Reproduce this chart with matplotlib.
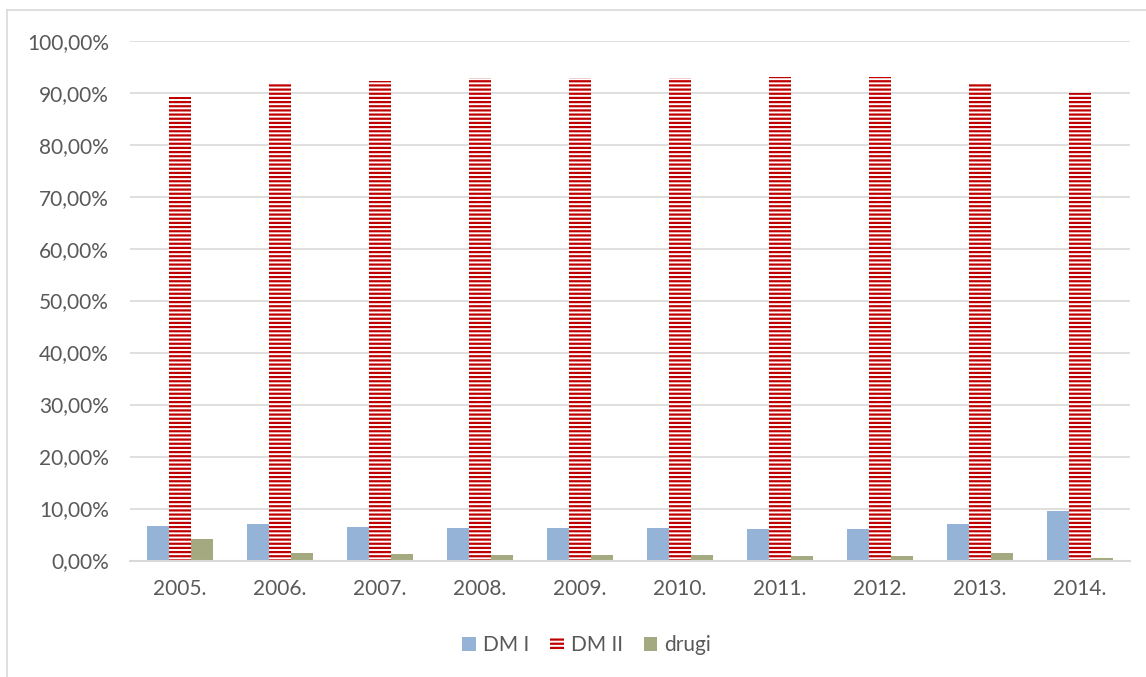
import matplotlib.pyplot as plt
import numpy as np
from matplotlib.ticker import FuncFormatter
from matplotlib.lines import Line2D

years = ["2005.", "2006.", "2007.", "2008.", "2009.", "2010.",
         "2011.", "2012.", "2013.", "2014."]
dm1 = [6.7, 7.0, 6.4, 6.3, 6.2, 6.3, 6.1, 6.1, 7.0, 9.5]
dm2 = [89.2, 91.6, 92.3, 92.8, 92.9, 92.8, 93.0, 93.0, 91.6, 90.0]
drugi = [4.1, 1.4, 1.2, 1.0, 1.0, 1.0, 0.8, 0.9, 1.4, 0.5]

plt.rcParams['font.family'] = ['Lato', 'DejaVu Sans']
plt.rcParams['hatch.linewidth'] = 1.6

fig = plt.figure(figsize=(11.46, 6.77), dpi=100)
ax = fig.add_axes([0.1134, 0.172, 0.8726, 0.768])

x = np.arange(len(years))
w = 0.22
ax.bar(x - w, dm1, w, color="#95B3D7", label="DM I")
ax.bar(x, dm2, w, facecolor="white", edgecolor="#C00000", hatch="----",
       linewidth=0, label="DM II")
ax.bar(x + w, drugi, w, color="#A5A97F", label="drugi")

ax.set_xlim(-0.5, len(years) - 0.5)
ax.set_ylim(0, 100)
ax.set_yticks(np.arange(0, 101, 10))
ax.yaxis.set_major_formatter(FuncFormatter(lambda v, p: f"{v:.2f}%".replace(".", ",")))
ax.set_xticks(x)
ax.set_xticklabels(years)
ax.tick_params(axis='both', length=0, labelsize=15, colors="#595959")
ax.tick_params(axis='y', pad=15)
ax.tick_params(axis='x', pad=13)
ax.grid(axis='y', color="#D9D9D9", linewidth=1.2)
ax.set_axisbelow(True)
for s in ["top", "right", "left"]:
    ax.spines[s].set_visible(False)
ax.spines["bottom"].set_color("#D9D9D9")
ax.spines["bottom"].set_linewidth(1.5)

leg = fig.legend(loc="center", bbox_to_anchor=(0.512, 0.047), ncol=3,
                 frameon=False, fontsize=15, handlelength=0.65, handleheight=0.65,
                 handletextpad=0.35, columnspacing=1.0)
for t in leg.get_texts():
    t.set_color("#595959")

# chart frame
fig.add_artist(Line2D([0.0061, 0.0061], [0.0, 0.985], color="#D9D9D9", lw=1.2,
                      transform=fig.transFigure))
fig.add_artist(Line2D([0.0061, 1.0], [0.985, 0.985], color="#D9D9D9", lw=1.2,
                      transform=fig.transFigure))

fig.savefig("out.png", dpi=100)
